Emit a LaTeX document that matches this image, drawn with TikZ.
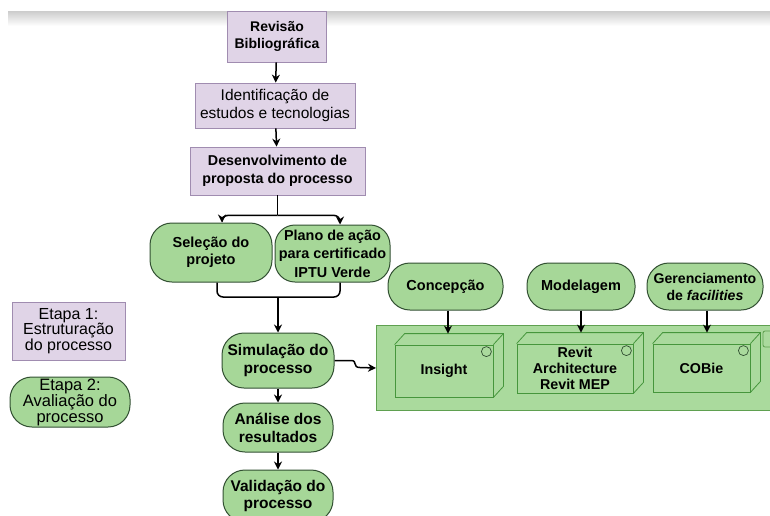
\documentclass[tikz,border=0pt]{standalone}
\usepackage{fontspec}
\setmainfont{Liberation Sans}
\usetikzlibrary{arrows.meta,calc}
\definecolor{pfill}{RGB}{224,212,231}
\definecolor{pline}{RGB}{160,140,176}
\definecolor{gfill}{RGB}{166,215,152}
\definecolor{gline}{RGB}{50,80,50}
\definecolor{cfill}{RGB}{170,218,157}
\definecolor{cline}{RGB}{95,160,80}
\definecolor{bline}{RGB}{70,150,60}
\newcommand{\fs}[2]{\fontsize{#1}{#2}\selectfont}
\tikzset{
  pbox/.style={draw=pline, fill=pfill, line width=0.8pt, align=center, inner sep=0pt},
  gbox/.style={draw=gline, fill=gfill, line width=1pt, align=center, inner sep=0pt, rounded corners=22pt},
  cbox/.style={draw=cline, fill=cfill, line width=1pt, inner sep=0pt},
  face/.style={draw=bline, line width=0.8pt, inner sep=0pt, align=center},
  arr/.style={draw=black, line width=1.5pt, -{Stealth[length=8pt,width=8pt]}},
  ln/.style={draw=black, line width=1.5pt},
}
\begin{document}
\begin{tikzpicture}[x=1pt,y=-1pt]
\useasboundingbox (0,0) rectangle (770,515);
\clip (0,0) rectangle (770,515);
\fill[white] (0,0) rectangle (770,515);
% top grey band
\shade[top color=black!20, bottom color=white] (8,11) rectangle (770,26);

% container
\node[cbox, anchor=north west, minimum width=410pt, minimum height=85pt] (cont) at (376,325) {};
\draw[cline, line width=0.8pt, rounded corners=2pt] (763,331) rectangle (778,347);

% left column
\node[pbox, minimum width=99pt, minimum height=51pt, font={\fs{14}{16.5}\bfseries}] (rev) at (277,36.5)
  {Revisão\\Bibliográfica};
\node[pbox, minimum width=160pt, minimum height=45pt, font={\fs{15.5}{18.3}}] (ident) at (275,105.5)
  {Identificação de\\estudos e tecnologias};
\node[pbox, minimum width=175pt, minimum height=48pt, font={\fs{14.3}{18}\bfseries}] (desenv) at (277.5,171)
  {Desenvolvimento de\\proposta do processo};

\node[gbox, minimum width=122pt, minimum height=59pt, font={\fs{14.5}{17}\bfseries}] (sel) at (211,252.5)
  {Seleção do\\projeto};
\node[gbox, minimum width=115pt, minimum height=57pt, rounded corners=20pt, font={\fs{14.4}{18.5}\bfseries}] (plano) at (332.5,253.5)
  {Plano de ação\\para certificado\\IPTU Verde};

\node[gbox, minimum width=112pt, minimum height=55pt, font={\fs{15.5}{18}\bfseries}] (sim) at (278,360.5)
  {Simulação do\\processo};
\node[gbox, minimum width=110pt, minimum height=49pt, font={\fs{15.5}{18}\bfseries}] (ana) at (278,427.5)
  {Análise dos\\resultados};
\node[gbox, minimum width=110pt, minimum height=52pt, font={\fs{15.5}{17}\bfseries}] (val) at (278,496)
  {Validação do\\processo};

% legend
\node[pbox, minimum width=113pt, minimum height=58pt, font={\fs{16}{15.5}}] (et1) at (68.5,331)
  {Etapa 1:\\Estruturação\\do processo};
\node[gbox, minimum width=120pt, minimum height=50pt, font={\fs{16.5}{16}}] (et2) at (70,402)
  {Etapa 2:\\Avaliação do\\processo};

% top row right
\node[gbox, minimum width=115pt, minimum height=47pt, font={\fs{14.5}{17}\bfseries}] (conc) at (445.5,286.5)
  {Concepção};
\node[gbox, minimum width=108pt, minimum height=47pt, font={\fs{14.5}{17}\bfseries}] (mod) at (581,286.5)
  {Modelagem};
\node[gbox, minimum width=116pt, minimum height=47pt, font={\fs{14.1}{17}\bfseries}] (ger) at (705,286.5)
  {Gerenciamento\\de \itshape facilities};

% 3D boxes
\node[face, minimum width=98pt, minimum height=52pt, font={\fs{14.3}{16}\bfseries}] (ins) at (444,371)
  {Insight};
\node[face, minimum width=116pt, minimum height=49pt, font={\fs{14.3}{16}\bfseries}] (rvt) at (575,368.5)
  {Revit\\Architecture\\Revit MEP};
\node[face, minimum width=97pt, minimum height=48pt, font={\fs{14.3}{16}\bfseries}] (cob) at (701.5,368)
  {COBie};
\foreach \b in {ins,rvt,cob}{
  \draw[bline, line width=0.8pt] (\b.north west) -- ++(10,-11) -- ($(\b.north east)+(10,-11)$)
     -- ($(\b.south east)+(10,-11)$) -- (\b.south east);
  \draw[bline, line width=0.8pt] (\b.north east) -- ++(10,-11);
  \coordinate (\b-top) at ($(\b.north)+(5,-11)$);
  \draw[gline, line width=0.7pt] ($(\b.north east)+(-7,7)$) circle (5pt);
}

% connectors
\draw[arr] (rev) -- (ident);
\draw[arr] (ident) -- (desenv);
\coordinate (fork) at ($(desenv.south)+(0,20)$);
\draw[ln] (desenv.south) -- (fork);
\draw[arr, rounded corners=6pt] (fork) -| ([xshift=11pt]sel.north);
\draw[arr, rounded corners=6pt] (fork) -| ([xshift=7.5pt]plano.north);
\coordinate (merge) at (278,297);
\draw[ln, rounded corners=6pt] ([xshift=6pt]sel.south) |- (merge) -| ([xshift=7.5pt]plano.south);
\draw[arr] (merge) -- (sim.north);
\draw[arr] (sim) -- (ana);
\draw[arr] (ana) -- (val);
\draw[arr] (sim.east) -- (351,360.5) .. controls (358,360.5) and (352,367.5) .. (360,367.5) -- (cont.west);
\draw[arr] ([xshift=2.5pt]conc.south) -- ([xshift=2.5pt]conc.south |- ins-top);
\draw[arr] (mod.south) -- (mod.south |- rvt-top);
\draw[arr] ([xshift=2pt]ger.south) -- ([xshift=2pt]ger.south |- cob-top);
\end{tikzpicture}
\end{document}
